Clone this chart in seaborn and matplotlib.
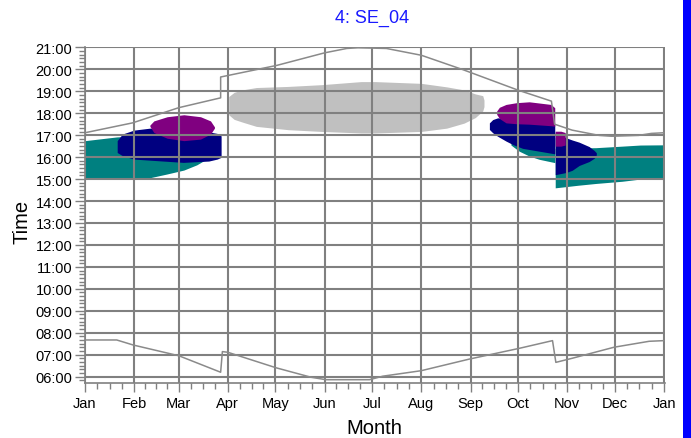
import matplotlib
matplotlib.use("Agg")
import matplotlib.pyplot as plt
from matplotlib.ticker import FixedLocator, MultipleLocator, FuncFormatter
from matplotlib.patches import Rectangle
import pandas as pd
import seaborn as sns

# ---- axis categories -------------------------------------------------------
MONTH_LABELS = ["Jan", "Feb", "Mar", "Apr", "May", "Jun", "Jul",
                "Aug", "Sep", "Oct", "Nov", "Dec", "Jan"]
MONTH_START_DAY = [0, 31, 59, 90, 120, 151, 181, 212, 243, 273, 304, 334, 365]
HOURS = list(range(6, 22))

# ---- sunrise / sunset (local clock time, hours) ------------------------------
SUNSET_DAY = [0, 30, 59, 85.5, 85.5, 121, 151, 165, 172, 190, 212, 238,
              273, 294, 296, 307, 324, 332, 349, 357, 365]
SUNSET_TIME = [17.11, 17.56, 18.25, 18.70, 19.65, 20.18, 20.75, 20.95, 20.98,
               20.95, 20.64, 19.99, 19.05, 18.55, 17.50, 17.23, 16.99, 16.95,
               16.99, 17.08, 17.11]

SUNRISE_DAY = [0, 20, 30.4, 59.2, 85.5, 86.6, 90, 120.6, 142.6, 152, 179.3,
               187.7, 211.9, 242.3, 273.8, 294.7, 296.8, 307.3, 333.5, 355.6, 365]
SUNRISE_TIME = [7.67, 7.67, 7.44, 6.95, 6.20, 7.14, 7.11, 6.40, 5.97, 5.86,
                5.86, 6.02, 6.27, 6.80, 7.29, 7.64, 6.65, 6.84, 7.34, 7.61, 7.64]

# ---- glare periods: (day of year, start time, end time) ----------------------
GRAY_SUMMER = [(90.6, 17.93, 18.76), (94, 17.72, 18.95), (99, 17.60, 19.06),
               (108, 17.40, 19.17), (128, 17.25, 19.22), (149, 17.17, 19.30),
               (174, 17.10, 19.44), (183, 17.10, 19.44), (212, 17.17, 19.36),
               (228, 17.32, 19.20), (239, 17.55, 19.06), (246, 17.80, 18.88),
               (250.7, 18.10, 18.80), (251.5, 18.30, 18.60)]

TEAL_WINTER = [(0, 15.07, 16.75), (20, 15.07, 16.92), (41.5, 15.07, 17.00),
               (51.6, 15.23, 17.00), (62.3, 15.41, 16.90), (70.5, 15.65, 16.60),
               (75, 15.84, 16.14)]
NAVY_WINTER = [(20.3, 16.21, 16.75), (23.5, 16.07, 17.05), (30.8, 15.91, 17.23),
               (41, 15.86, 17.32), (62, 15.76, 17.30), (78, 15.82, 17.15),
               (83.3, 15.91, 17.08), (85.8, 15.99, 16.97)]
PURPLE_WINTER = [(40.9, 17.40, 17.46), (43.4, 17.12, 17.65), (51.8, 16.86, 17.84),
                 (62.3, 16.75, 17.93), (72.8, 16.82, 17.84), (79.1, 17.05, 17.65),
                 (81.6, 17.32, 17.38)]

TEAL_AUTUMN = [(268.5, 16.55, 16.65), (273.7, 16.27, 16.90), (280, 16.05, 16.90),
               (286.3, 15.90, 16.90), (296.1, 15.75, 16.90)]
NAVY_AUTUMN = [(254.9, 17.26, 17.56), (257, 17.11, 17.71), (260.1, 16.95, 17.79),
               (265.4, 16.73, 17.75), (269.5, 16.58, 17.70), (275.8, 16.40, 17.65),
               (286.3, 16.27, 17.60), (296.1, 16.15, 17.50)]
PURPLE_AUTUMN = [(259.5, 17.95, 18.10), (261.2, 17.76, 18.27), (265.4, 17.56, 18.40),
                 (272, 17.52, 18.48), (280, 17.50, 18.52), (293.7, 17.43, 18.40),
                 (296.1, 17.41, 18.25)]

TEAL_LATE = [(296.4, 14.60, 16.40), (311, 14.72, 16.42), (322, 14.80, 16.43),
             (338.6, 14.90, 16.50), (350, 15.00, 16.55), (365, 15.06, 16.56)]
NAVY_LATE = [(296.4, 15.20, 17.15), (303.3, 15.30, 16.88), (307.1, 15.40, 16.78),
             (311.5, 15.62, 16.68), (317.8, 15.80, 16.48), (321, 15.95, 16.30),
             (322.3, 16.10, 16.20)]
PURPLE_LATE = [(296.4, 16.50, 17.18), (300, 16.50, 17.18), (302.7, 16.55, 17.12)]

PATCHES = [
    ("#c0c0c0", [GRAY_SUMMER]),
    ("#008080", [TEAL_WINTER, TEAL_AUTUMN, TEAL_LATE]),
    ("#000080", [NAVY_WINTER, NAVY_AUTUMN, NAVY_LATE]),
    ("#800080", [PURPLE_WINTER, PURPLE_AUTUMN, PURPLE_LATE]),
]

GRID = "#808080"

sns.set_theme(style="white")
plt.rcParams["font.family"] = ["Liberation Sans", "DejaVu Sans"]

fig = plt.figure(figsize=(6.91, 4.39), dpi=100)
ax = fig.add_axes([85 / 691, 1 - 384 / 439, 580 / 691, (384 - 47.7) / 439])

for color, segments in PATCHES:
    for seg in segments:
        d = [p[0] for p in seg]
        lo = [p[1] for p in seg]
        hi = [p[2] for p in seg]
        ax.fill_between(d, lo, hi, color=color, linewidth=0, zorder=1)

sun = pd.concat([
    pd.DataFrame({"day": SUNSET_DAY, "time": SUNSET_TIME, "event": "sunset"}),
    pd.DataFrame({"day": SUNRISE_DAY, "time": SUNRISE_TIME, "event": "sunrise"}),
])
sns.lineplot(data=sun, x="day", y="time", units="event", estimator=None,
             sort=False, color="#8a8a8a", linewidth=1.1, ax=ax, zorder=4,
             legend=False)

ax.set_xlim(0, 365.6)
ax.set_ylim(5.71, 21.03)

ax.xaxis.set_major_locator(FixedLocator(MONTH_START_DAY))
ax.set_xticklabels(MONTH_LABELS)
minor_days = []
for a, b in zip(MONTH_START_DAY[:-1], MONTH_START_DAY[1:]):
    minor_days += [a + (b - a) * k / 4 for k in (1, 2, 3)]
ax.xaxis.set_minor_locator(FixedLocator(minor_days))

ax.yaxis.set_major_locator(FixedLocator(HOURS))
ax.yaxis.set_major_formatter(FuncFormatter(lambda v, _: f"{int(round(v)):02d}:00"))
ax.yaxis.set_minor_locator(MultipleLocator(1 / 6))

ax.set_axisbelow(False)
ax.grid(True, which="major", color=GRID, linewidth=1.5)
ax.grid(False, which="minor")

for side in ("top", "right"):
    ax.spines[side].set_visible(False)
for side in ("left", "bottom"):
    ax.spines[side].set_color(GRID)
    ax.spines[side].set_linewidth(1.2)

ax.tick_params(axis="both", which="major", direction="out", color=GRID,
               width=1.0, labelsize=10.5, labelcolor="black")
ax.tick_params(axis="y", which="major", length=7.5, pad=1.5, left=True)
ax.tick_params(axis="y", which="minor", length=4.5, width=1.0, color=GRID, left=True)
ax.tick_params(axis="x", which="major", length=6.5, pad=3, bottom=True)
ax.tick_params(axis="x", which="minor", length=4.5, width=1.0, color=GRID, bottom=True)

ax.set_xlabel("Month", fontsize=14.5, color="black")
ax.set_ylabel("Time", fontsize=14.5, color="black")
ax.xaxis.set_label_coords(0.498, -0.104)
ax.yaxis.set_label_coords(-0.092, 0.482)

fig.text(372 / 691, 1 - 18 / 439, "4: SE_04", color="#1a1aff", fontsize=13,
         ha="center", va="center")

fig.patches.append(Rectangle((683 / 691, 0), 8 / 691, 1, transform=fig.transFigure,
                             facecolor="#0000ff", edgecolor="none"))

fig.savefig("out.png", dpi=100)
